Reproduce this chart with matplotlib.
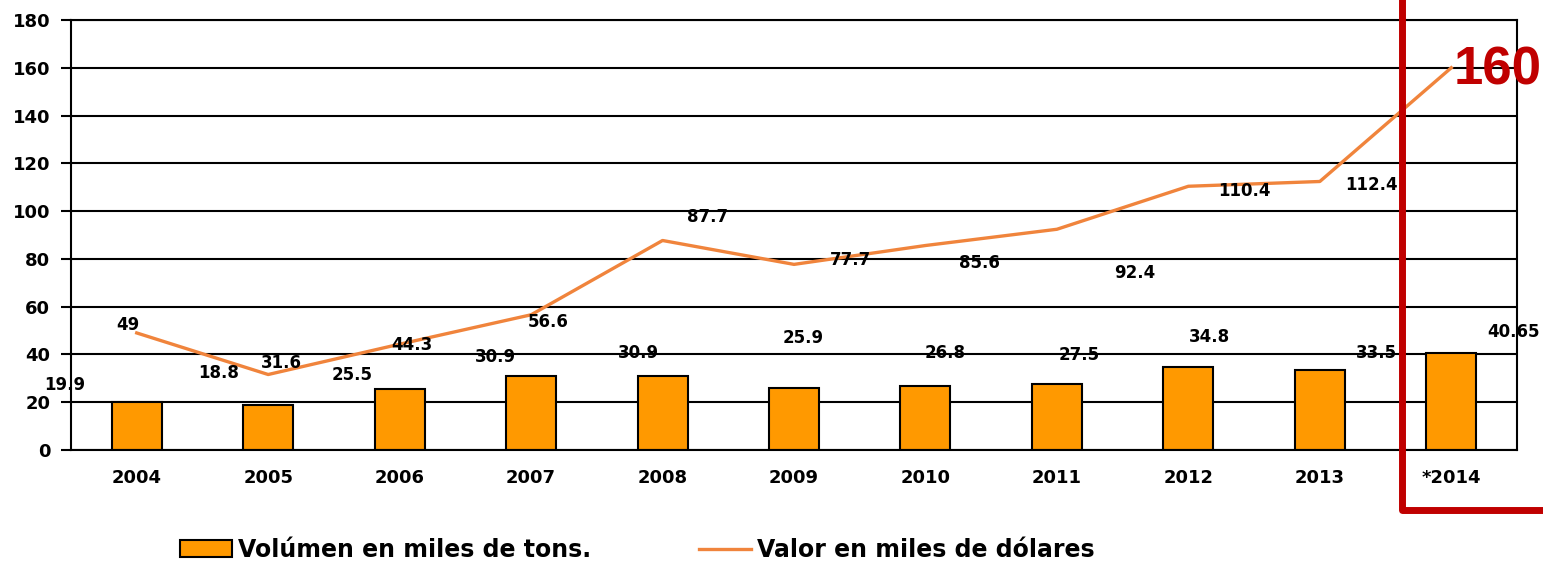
import matplotlib.pyplot as plt
import numpy as np
from matplotlib.lines import Line2D

years = ["2004", "2005", "2006", "2007", "2008", "2009", "2010", "2011", "2012", "2013", "*2014"]
volumen = [19.9, 18.8, 25.5, 30.9, 30.9, 25.9, 26.8, 27.5, 34.8, 33.5, 40.65]
valor = [49, 31.6, 44.3, 56.6, 87.7, 77.7, 85.6, 92.4, 110.4, 112.4, 160]
vol_labels = ["19.9", "18.8", "25.5", "30.9", "30.9", "25.9", "26.8", "27.5", "34.8", "33.5", "40.65"]
val_labels = ["49", "31.6", "44.3", "56.6", "87.7", "77.7", "85.6", "92.4", "110.4", "112.4", "160"]

# label offsets (x in categories, y in data units) - the labels sit off the marks like in the original
vol_dx = [-0.55, -0.38, -0.36, -0.27, -0.18, 0.07, 0.15, 0.17, 0.16, 0.43, 0.47]
vol_dy = [7.3, 13.4, 5.9, 8.0, 9.7, 21.0, 13.8, 12.3, 12.5, 7.1, 8.8]
val_dx = [-0.07, 0.10, 0.09, 0.13, 0.34, 0.43, 0.41, 0.59, 0.43, 0.39, 0.35]
val_dy = [3.3, 4.8, -0.3, -3.0, 9.8, 1.8, -7.3, -18.3, -2.0, -1.5, -1.0]

orange_bar = "#FF9900"
orange_line = "#F0843C"
red = "#C00000"

fig = plt.figure(figsize=(15.43, 5.64), dpi=100)
ax = fig.add_axes([71 / 1543, 114 / 564, 1446 / 1543, 430 / 564])

x = np.arange(len(years))
bars = ax.bar(x, volumen, width=0.38, color=orange_bar, edgecolor="black", linewidth=1.5,
              zorder=2, label="Volúmen en miles de tons.")
line, = ax.plot(x, valor, color=orange_line, linewidth=2.4, zorder=3, label="Valor en miles de dólares")

for i in range(len(years)):
    ax.text(x[i] + vol_dx[i], volumen[i] + vol_dy[i], vol_labels[i], ha="center", va="center",
            fontsize=12, fontweight="bold", zorder=4)
    if i < len(years) - 1:
        ax.text(x[i] + val_dx[i], valor[i] + val_dy[i], val_labels[i], ha="center", va="center",
                fontsize=12, fontweight="bold", zorder=4)
    else:
        ax.text(x[i] + val_dx[i], valor[i] + val_dy[i], val_labels[i], ha="center", va="center",
                fontsize=38, fontweight="bold", color=red, family="Liberation Sans", zorder=4)

ax.set_xlim(-0.5, len(years) - 0.5)
ax.set_ylim(0, 180)
ax.set_yticks(np.arange(0, 181, 20))
ax.set_xticks(x)
ax.set_xticklabels(years)
ax.yaxis.grid(True, color="black", linewidth=1.5, zorder=1)
ax.set_axisbelow(True)
for s in ax.spines.values():
    s.set_linewidth(1.5)
ax.tick_params(axis="y", length=7, width=1.5, labelsize=13, pad=8)
ax.tick_params(axis="x", length=0, labelsize=13, pad=14)
for lab in ax.get_xticklabels() + ax.get_yticklabels():
    lab.set_fontweight("bold")

# red highlight box around 2014
fig.add_artist(Line2D([1402 / 1543, 1402 / 1543, 1.0], [1.0, 54 / 564, 54 / 564],
                      transform=fig.transFigure, color=red, linewidth=5,
                      solid_joinstyle="round", zorder=10))

leg = fig.legend([bars, line], ["Volúmen en miles de tons.", "Valor en miles de dólares"],
                 loc="center", bbox_to_anchor=(0.413, 0.025), ncol=2, frameon=False,
                 prop={"weight": "bold", "size": 17}, handlelength=2.2, handletextpad=0.25,
                 columnspacing=4.6, handleheight=0.7)

fig.savefig("out.png", dpi=100)
